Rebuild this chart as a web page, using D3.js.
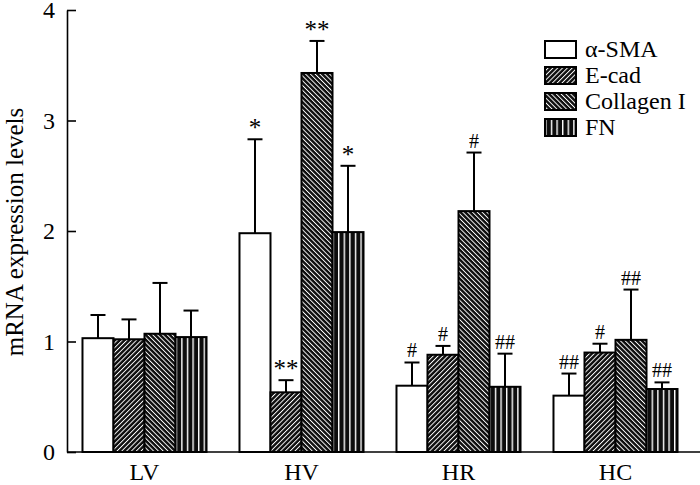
<!DOCTYPE html>
<html>
<head>
<meta charset="utf-8">
<script src="https://cdn.jsdelivr.net/npm/d3@7/dist/d3.min.js"></script>
<style>
  body { margin: 0; background: #fff; }
  text { font-family: "Liberation Serif", "Times New Roman", serif; fill: #000; }
</style>
</head>
<body>
<script>
var groups = ["LV", "HV", "HR", "HC"];
var series = ["α-SMA", "E-cad", "Collagen I", "FN"];

// means and SD
var smaMean = [1.03, 1.98, 0.60, 0.51];
var smaSD = [0.21, 0.85, 0.21, 0.20];
var ecadMean = [1.02, 0.54, 0.88, 0.90];
var ecadSD = [0.18, 0.11, 0.08, 0.08];
var colMean = [1.07, 3.43, 2.18, 1.015];
var colSD = [0.46, 0.29, 0.53, 0.455];
var fnMean = [1.04, 1.99, 0.59, 0.57];
var fnSD = [0.24, 0.60, 0.30, 0.06];

var smaSig = ["", "*", "#", "##"];
var ecadSig = ["", "**", "#", "#"];
var colSig = ["", "**", "#", "##"];
var fnSig = ["", "*", "##", "##"];

var yTicks = [0, 1, 2, 3, 4];

var means = [smaMean, ecadMean, colMean, fnMean];
var sds = [smaSD, ecadSD, colSD, fnSD];
var sigs = [smaSig, ecadSig, colSig, fnSig];
var fills = ["#fff", "url(#pEcad)", "url(#pCol)", "url(#pFn)"];

var width = 700, height = 485;
var axisX = 67;

var svg = d3.select("body").append("svg")
    .attr("width", width)
    .attr("height", height);

// hatch patterns, dark ground with thin white lines
var defs = svg.append("defs");
var p1 = defs.append("pattern")
    .attr("id", "pEcad")
    .attr("patternUnits", "userSpaceOnUse")
    .attr("width", 3.4).attr("height", 3.4)
    .attr("patternTransform", "rotate(45)");
p1.append("rect").attr("width", 3.4).attr("height", 3.4).attr("fill", "#0d0d0d");
p1.append("rect").attr("width", 0.95).attr("height", 3.4).attr("fill", "#fff");

var p2 = defs.append("pattern")
    .attr("id", "pCol")
    .attr("patternUnits", "userSpaceOnUse")
    .attr("width", 3.4).attr("height", 3.4)
    .attr("patternTransform", "rotate(-45)");
p2.append("rect").attr("width", 3.4).attr("height", 3.4).attr("fill", "#0d0d0d");
p2.append("rect").attr("width", 0.95).attr("height", 3.4).attr("fill", "#fff");

var p3 = defs.append("pattern")
    .attr("id", "pFn")
    .attr("patternUnits", "userSpaceOnUse")
    .attr("x", 2)
    .attr("width", 5.6).attr("height", 10);
p3.append("rect").attr("width", 5.6).attr("height", 10).attr("fill", "#0d0d0d");
p3.append("rect").attr("width", 1.4).attr("height", 10).attr("fill", "#fff");

var x0 = d3.scaleBand()
    .domain(groups)
    .range([66, 694])
    .paddingInner(0.21)
    .paddingOuter(0.105);

var x1 = d3.scaleBand()
    .domain(series)
    .range([0, x0.bandwidth()]);

var y = d3.scaleLinear()
    .domain([0, 4])
    .range([452, 10]);

// y axis, ticks point inward
var yAxis = svg.append("g")
    .attr("transform", "translate(" + axisX + ",0)")
    .call(d3.axisLeft(y).tickValues(yTicks).tickFormat(d3.format("d"))
        .tickSizeInner(-9).tickSizeOuter(0).tickPadding(12));
yAxis.select(".domain").attr("stroke", "#000").attr("stroke-width", 1.6);
yAxis.selectAll(".tick line").attr("stroke", "#000").attr("stroke-width", 1.6);
yAxis.selectAll(".tick text")
    .style("font-family", "'Liberation Serif', 'Times New Roman', serif")
    .style("font-size", "24px");

// x axis baseline
svg.append("line")
    .attr("x1", axisX).attr("x2", width)
    .attr("y1", y(0)).attr("y2", y(0))
    .attr("stroke", "#000").attr("stroke-width", 1.6);

svg.selectAll(".cat")
    .data(groups)
    .enter().append("text")
    .attr("class", "cat")
    .attr("x", function(d) { return x0(d) + x0.bandwidth() / 2; })
    .attr("y", 480)
    .attr("text-anchor", "middle")
    .style("font-size", "24px")
    .text(function(d) { return d; });

svg.append("text")
    .attr("transform", "translate(23,232) rotate(-90)")
    .attr("text-anchor", "middle")
    .style("font-size", "25px")
    .text("mRNA expression levels");

// bars
series.forEach(function(s, si) {
    var g = svg.append("g");
    groups.forEach(function(grp, gi) {
        var bx = x0(grp) + x1(s);
        var bw = x1.bandwidth();
        var m = means[si][gi];
        var top = m + sds[si][gi];
        var cx = bx + bw / 2;

        g.append("line")
            .attr("x1", cx).attr("x2", cx)
            .attr("y1", y(m)).attr("y2", y(top))
            .attr("stroke", "#000").attr("stroke-width", 2);
        g.append("line")
            .attr("x1", cx - 7.5).attr("x2", cx + 7.5)
            .attr("y1", y(top)).attr("y2", y(top))
            .attr("stroke", "#000").attr("stroke-width", 2);

        g.append("rect")
            .attr("x", bx)
            .attr("y", y(m))
            .attr("width", bw)
            .attr("height", y(0) - y(m))
            .attr("fill", fills[si])
            .attr("stroke", "#000")
            .attr("stroke-width", 2);

        var lab = sigs[si][gi];
        if (lab) {
            var isStar = lab.charAt(0) == "*";
            g.append("text")
                .attr("x", cx)
                .attr("y", y(top) - (isStar ? 3 : 5))
                .attr("text-anchor", "middle")
                .style("font-size", isStar ? "25px" : "20px")
                .text(lab);
        }
    });
});

// legend
var legend = svg.append("g");
series.forEach(function(s, i) {
    var ly = 41 + i * 26;
    legend.append("rect")
        .attr("x", 545).attr("y", ly)
        .attr("width", 31).attr("height", 17)
        .attr("fill", fills[i])
        .attr("stroke", "#000").attr("stroke-width", 2);
    legend.append("text")
        .attr("x", 585).attr("y", ly + 16)
        .style("font-size", "24px")
        .text(s);
});
</script>
</body>
</html>
